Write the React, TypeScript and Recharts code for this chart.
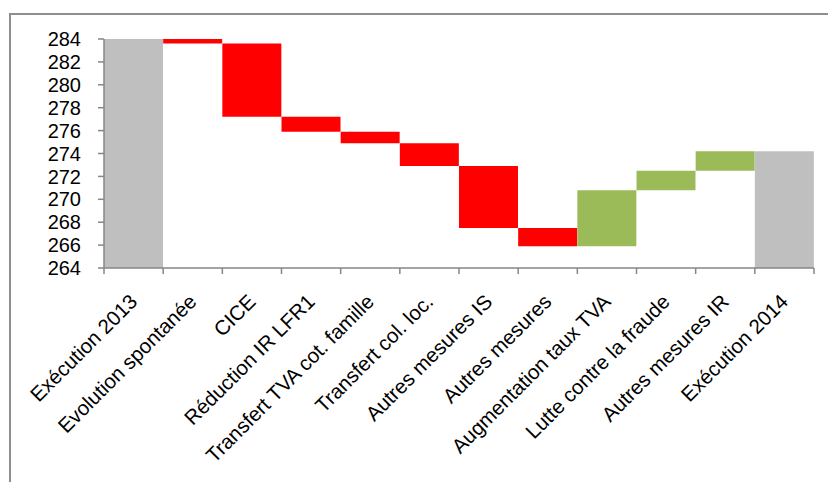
import React from "react";
import { BarChart, Bar, XAxis, YAxis, Cell } from "recharts";

const categories = [
  "Exécution 2013",
  "Evolution spontanée",
  "CICE",
  "Réduction IR LFR1",
  "Transfert TVA cot. famille",
  "Transfert col. loc.",
  "Autres mesures IS",
  "Autres mesures",
  "Augmentation taux TVA",
  "Lutte contre la fraude",
  "Autres mesures IR",
  "Exécution 2014",
];

// running level after each step (Md€)
const levels = [284, 283.6, 277.2, 275.9, 274.9, 272.9, 267.5, 265.9, 270.8, 272.5, 274.2, 274.2];
const kinds = ["total", "step", "step", "step", "step", "step", "step", "step", "step", "step", "step", "total"];

const yTicks = [264, 266, 268, 270, 272, 274, 276, 278, 280, 282, 284];
const Y_MIN = 264;
const Y_MAX = 284;

const COLORS: Record<string, string> = {
  total: "#BFBFBF",
  down: "#FF0000",
  up: "#9BBB59",
};

const data = categories.map((name, i) => {
  const level = levels[i];
  if (kinds[i] === "total") return { name, range: [Y_MIN, level], color: COLORS.total };
  const prev = levels[i - 1];
  return {
    name,
    range: [Math.min(prev, level), Math.max(prev, level)],
    color: level < prev ? COLORS.down : COLORS.up,
  };
});

const W = 828;
const H = 482;
const PLOT_LEFT = 104;
const PLOT_RIGHT = 814;
const PLOT_TOP = 39;
const PLOT_BOTTOM = 268;
const BAND = (PLOT_RIGHT - PLOT_LEFT) / categories.length;
const FONT = "'Liberation Sans', Arial, sans-serif";
const AXIS = "#868686";

// eslint-disable-next-line @typescript-eslint/no-explicit-any
function CategoryTick({ x, y, payload, index }: any) {
  const left = x - BAND / 2;
  const tx = x + 5;
  const ty = y + 35;
  return (
    <g>
      <line x1={left} y1={y} x2={left} y2={y + 6} stroke={AXIS} strokeWidth={1.5} />
      {index === categories.length - 1 && (
        <line x1={x + BAND / 2} y1={y} x2={x + BAND / 2} y2={y + 6} stroke={AXIS} strokeWidth={1.5} />
      )}
      <text
        x={tx}
        y={ty}
        textAnchor="end"
        transform={`rotate(-45, ${tx}, ${ty})`}
        fontFamily={FONT}
        fontSize={20.5}
        fill="#000"
      >
        {payload.value}
      </text>
    </g>
  );
}

export default function App() {
  return (
    <div style={{ position: "absolute", left: 0, top: 0, width: W, height: H, background: "#fff" }}>
      <div
        style={{
          position: "absolute",
          left: 9,
          top: 13,
          width: W,
          height: H,
          borderTop: "2px solid #8F8F8F",
          borderLeft: "2px solid #8F8F8F",
        }}
      />
      <div style={{ position: "absolute", left: 0, top: 0 }}>
        <BarChart
          width={W}
          height={H}
          data={data}
          barCategoryGap={0}
          margin={{ top: PLOT_TOP, right: W - PLOT_RIGHT, bottom: 14, left: 0 }}
        >
          <XAxis
            dataKey="name"
            interval={0}
            height={H - PLOT_BOTTOM - 14}
            tickSize={0}
            tickMargin={0}
            tickLine={false}
            axisLine={{ stroke: AXIS, strokeWidth: 1.5 }}
            tick={<CategoryTick />}
          />
          <YAxis
            width={PLOT_LEFT}
            domain={[Y_MIN, Y_MAX]}
            ticks={yTicks}
            interval={0}
            allowDataOverflow
            tickSize={6}
            tickMargin={17}
            axisLine={{ stroke: AXIS, strokeWidth: 1.5 }}
            tickLine={{ stroke: AXIS, strokeWidth: 1.5 }}
            tick={{ fontFamily: FONT, fontSize: 20, fill: "#000" }}
          />
          <Bar dataKey="range" isAnimationActive={false}>
            {data.map((d, i) => (
              <Cell key={i} fill={d.color} />
            ))}
          </Bar>
        </BarChart>
      </div>
    </div>
  );
}
